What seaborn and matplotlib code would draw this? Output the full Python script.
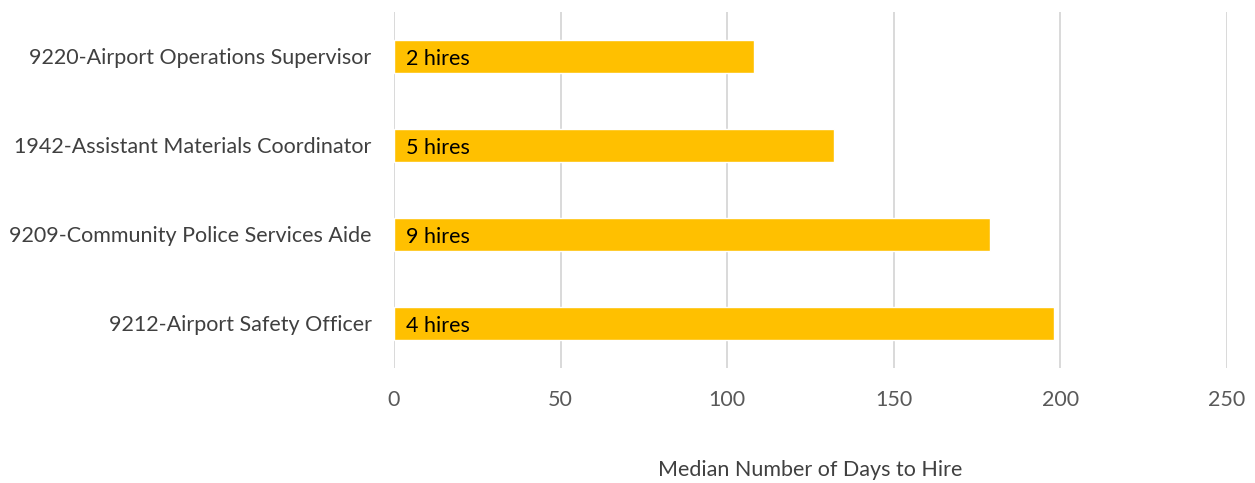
import matplotlib
matplotlib.use("Agg")
import matplotlib.pyplot as plt
import seaborn as sns
import pandas as pd

# Median days to hire per job class, with the number of hires
job_classes = [
    "9220-Airport Operations Supervisor",
    "1942-Assistant Materials Coordinator",
    "9209-Community Police Services Aide",
    "9212-Airport Safety Officer",
]
median_days = [108, 132, 179, 198]
hires = [2, 5, 9, 4]
x_ticks = [0, 50, 100, 150, 200, 250]

df = pd.DataFrame({"job": job_classes, "days": median_days, "hires": hires})

sns.set_theme(style="white")
plt.rcParams["font.family"] = ["Lato", "DejaVu Sans"]

fig = plt.figure(figsize=(12.55, 4.83), dpi=100)
ax = fig.add_axes([0.3139, 0.2381, 0.6637, 0.7371])

sns.barplot(data=df, x="days", y="job", orient="h", color="#FFC000",
            width=0.36, saturation=1, ax=ax, zorder=3)

ax.set_xlim(0, 250)
ax.set_xticks(x_ticks)
ax.set_xticklabels([str(t) for t in x_ticks])
ax.grid(axis="x", color="#D9D9D9", linewidth=1.4, zorder=0)
ax.set_axisbelow(True)
for s in ax.spines.values():
    s.set_visible(False)
ax.tick_params(axis="both", length=0, labelsize=15.5, colors="#595959")
ax.tick_params(axis="x", pad=16)
ax.tick_params(axis="y", pad=16)
for lbl in ax.get_yticklabels():
    lbl.set_color("#404040")

ax.set_ylabel("")
ax.set_xlabel("Median Number of Days to Hire", fontsize=15.5, color="#404040",
              labelpad=36)

# Hire counts written inside each bar near its base
for i, n in enumerate(hires):
    ax.annotate(f"{n} hires", xy=(0, i), xytext=(8.5, -1.5),
                textcoords="offset points", ha="left", va="center",
                fontsize=15.5, color="black", zorder=4)

fig.savefig("out.png", dpi=100)
